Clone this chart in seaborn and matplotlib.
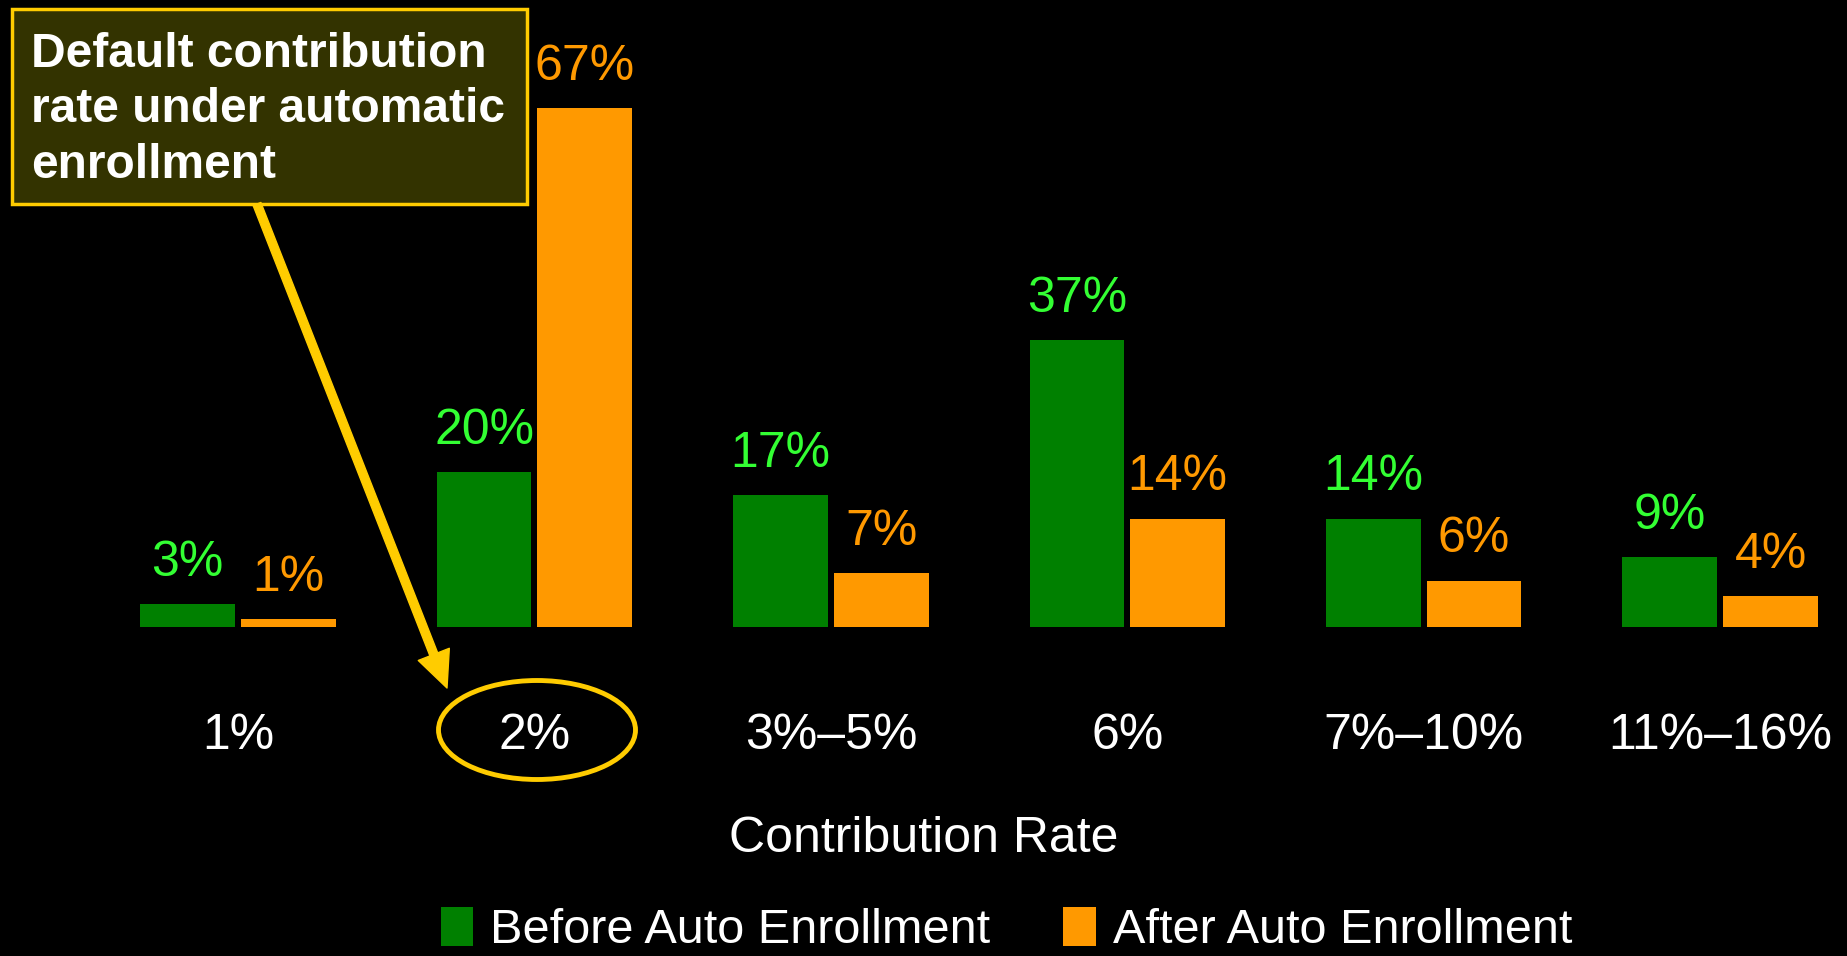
import numpy as np
import pandas as pd
import matplotlib.pyplot as plt
import seaborn as sns
from matplotlib.patches import Ellipse, Patch, Rectangle, FancyArrowPatch

# 1. --- Data ---
rates = ['1%', '2%', '3%\u20135%', '6%', '7%\u201310%', '11%\u201316%']
before = [3, 20, 17, 37, 14, 9]
after = [1, 67, 7, 14, 6, 4]
series = ['Before Auto Enrollment', 'After Auto Enrollment']

df = pd.DataFrame({
    'rate': rates * 2,
    'share': before + after,
    'period': [series[0]] * len(rates) + [series[1]] * len(rates),
})

bar_colors = ['#008000', '#FF9900']
label_colors = ['#33FF33', '#FF9900']
gold = '#FFCC00'

# 2. --- Style ---
sns.set_style('dark')
plt.rcParams['font.family'] = ['Liberation Sans', 'DejaVu Sans']
plt.rcParams['figure.facecolor'] = 'black'
plt.rcParams['axes.facecolor'] = 'black'

W, H = 1847, 956
fig = plt.figure(figsize=(W / 100, H / 100), dpi=100)
ax = fig.add_axes([0, 1 - 627 / H, 1, 627 / H])

sns.barplot(data=df, x='rate', y='share', hue='period', palette=bar_colors,
            saturation=1, width=0.68, gap=0.06, linewidth=0, ax=ax, legend=False)

ax.set_xlim(-0.803, 5.428)
ax.set_ylim(0, 627 / 7.75)
for s in ax.spines.values():
    s.set_visible(False)
ax.set_yticks([])
ax.grid(False)
ax.tick_params(axis='x', length=0, pad=62, labelsize=36, labelcolor='white')
ax.set_ylabel('')
ax.set_xlabel('Contribution Rate', fontsize=36, color='white', labelpad=41)

# value labels
for cont, col in zip(ax.containers, label_colors):
    ax.bar_label(cont, labels=[f'{v:.0f}%' for v in cont.datavalues],
                 padding=13, fontsize=36, color=col)

# legend
handles = [Patch(facecolor=c, edgecolor='none') for c in bar_colors]
fig.legend(handles, series, loc='center', bbox_to_anchor=(0.545, 0.027), ncol=2,
           frameon=False, fontsize=35, labelcolor='white', handlelength=0.66,
           handleheight=0.86, handletextpad=0.35, columnspacing=1.5,
           borderaxespad=0, borderpad=0)

# callout box
def fx(px):
    return px / W

def fy(py):
    return 1 - py / H

box = Rectangle((fx(12), fy(204)), fx(527) - fx(12), fy(9) - fy(204),
                transform=fig.transFigure, facecolor='#333300', edgecolor=gold,
                linewidth=2.5)
fig.patches.append(box)
fig.text(fx(31), fy(110), 'Default contribution\nrate under automatic\nenrollment',
         fontsize=34.5, fontweight='bold', color='white', va='center', ha='left',
         linespacing=1.3)

# arrow from box to the circled 2% label
arrow = FancyArrowPatch((fx(257), fy(204)), (fx(447), fy(688)),
                        transform=fig.transFigure, mutation_scale=20,
                        arrowstyle='simple,head_length=1.3,head_width=1.2,tail_width=0.3',
                        color=gold, shrinkA=0, shrinkB=0)
fig.patches.append(arrow)

ell = Ellipse((fx(537), fy(730)), fx(197), 99 / H,
              transform=fig.transFigure, fill=False, edgecolor=gold, linewidth=3.5)
fig.patches.append(ell)

plt.savefig('out.png', dpi=100, facecolor='black')
